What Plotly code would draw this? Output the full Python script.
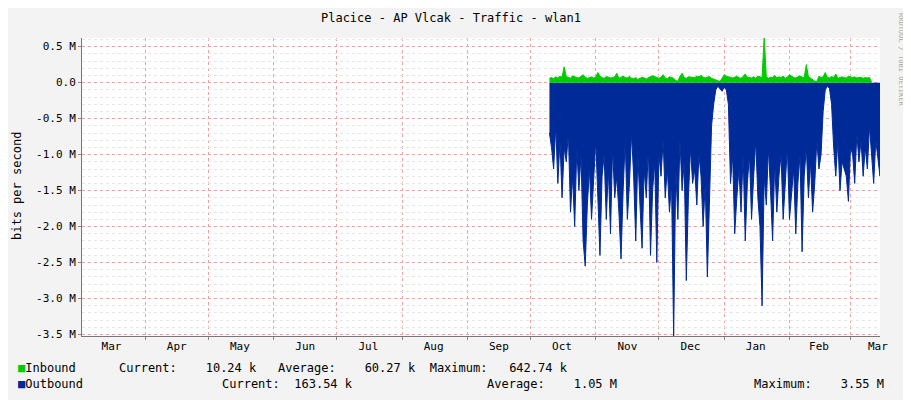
import plotly.graph_objects as go
import pandas as pd

start_date = "2015-10-10"
outbound_M = [0.7,0.9,1.2,0.6,1.4,0.8,1.6,0.9,1.1,0.7,
1.8,1.3,2.0,0.9,1.5,1.0,2.2,2.55,1.7,1.2,
1.9,1.4,0.8,1.6,2.4,1.3,1.0,1.9,1.2,2.1,
0.9,1.6,1.3,1.8,2.45,1.5,0.8,1.9,1.4,0.7,
1.3,2.2,1.0,1.7,2.3,1.2,1.6,0.9,2.4,1.5,
1.1,2.5,1.0,1.3,0.8,1.6,1.2,1.8,1.4,3.55,
1.2,1.9,0.8,1.5,1.1,2.75,1.6,0.9,1.4,1.2,
1.7,1.0,1.3,2.0,1.4,2.7,1.5,0.6,0.3,0.1,
0.05,0.08,0.12,0.06,0.1,
0.3,1.4,1.0,2.1,1.6,
1.2,1.8,1.0,2.2,1.4,1.0,1.9,1.3,0.8,1.6,
2.0,3.1,1.3,1.7,0.9,1.5,2.2,1.1,1.8,1.3,
1.0,1.9,1.4,0.9,1.9,1.5,1.2,2.1,1.4,1.0,
2.35,1.3,0.9,1.6,1.1,1.8,1.4,0.8,1.2,1.0,
0.4,0.1,0.05,0.08,0.3,
0.9,1.3,0.8,1.5,1.1,1.2,1.3,1.65,0.9,1.0,1.4,0.7,1.1,0.8,1.3,
0.9,1.2,0.6,1.0,1.4,0.8,1.1,1.3,0.16]
inbound_k = [60,70,55,80,65,90,75,220,85,70,
60,95,80,70,65,85,110,75,60,70,
80,65,75,140,90,70,60,85,75,65,
70,80,130,60,75,90,70,65,85,60,
55,70,45,60,75,65,50,70,80,95,
85,70,60,75,110,65,55,80,70,60,
30,20,90,130,70,60,80,75,65,70,
90,80,100,75,65,70,85,60,50,40,
20,15,60,110,90,
80,70,65,75,90,70,60,85,120,75,
70,65,80,60,90,75,70,642,80,60,
75,70,100,65,80,70,90,60,75,110,
85,70,65,80,95,75,70,250,80,65,
40,20,15,90,70,
80,140,75,65,85,70,120,60,75,80,70,65,90,75,70,
80,65,70,75,60,70,65,70,10]
month_labels = ["Mar","Apr","May","Jun","Jul","Aug","Sep","Oct","Nov","Dec","Jan","Feb","Mar"]
month_mid = ["2015-03-16","2015-04-16","2015-05-16","2015-06-16","2015-07-16","2015-08-16",
             "2015-09-16","2015-10-16","2015-11-16","2015-12-16","2016-01-16","2016-02-15","2016-03-14"]
month_starts = ["2015-04-01","2015-05-01","2015-06-01","2015-07-01","2015-08-01","2015-09-01",
                "2015-10-01","2015-11-01","2015-12-01","2016-01-01","2016-02-01","2016-03-01"]
y_ticks = [0.5e6,0,-0.5e6,-1e6,-1.5e6,-2e6,-2.5e6,-3e6,-3.5e6]
y_labels = ["0.5 M","0.0","-0.5 M","-1.0 M","-1.5 M","-2.0 M","-2.5 M","-3.0 M","-3.5 M"]

dates = pd.date_range(start_date, periods=len(outbound_M), freq="D")
mono = "DejaVu Sans Mono"
fig = go.Figure()
fig.add_trace(go.Scatter(x=dates, y=[-v*1e6 for v in outbound_M], fill="tozeroy",
    mode="lines", line=dict(color="#002A97", width=1), fillcolor="#002A97"))
fig.add_trace(go.Scatter(x=dates, y=[v*1e3 for v in inbound_k], fill="tozeroy",
    mode="lines", line=dict(color="#00CC00", width=1), fillcolor="#00CC00"))

# page has an 8px body margin; figure coordinates = screen - 8
L, T, R, B = 74, 30, 872, 328
fig.update_layout(
    width=911, height=400, showlegend=False,
    paper_bgcolor="#F3F3F3", plot_bgcolor="white",
    margin=dict(l=L, r=911-R, t=T, b=400-B, autoexpand=False),
    font=dict(family=mono, size=11, color="#000"),
    title=dict(text="Placice - AP Vlcak - Traffic - wlan1", x=(451-8)/911, y=1-(6/400),
               xanchor="center", yanchor="top", font=dict(family=mono, size=12)),
    xaxis=dict(range=["2015-03-02","2016-03-15"], tickvals=month_mid, ticktext=month_labels,
               showgrid=False, ticks="", showline=True, linecolor="#777", automargin=False,
               minor=dict(tickvals=month_starts, showgrid=True, gridcolor="#F4A0A0",
                          griddash="dot", gridwidth=1, ticks="outside", ticklen=3, tickcolor="#888")),
    yaxis=dict(range=[-3.52e6, 0.62e6], tickvals=y_ticks, ticktext=y_labels, automargin=False,
               showgrid=True, gridcolor="#F4A0A0", griddash="dot", zeroline=False,
               ticks="outside", ticklen=3, tickcolor="#888", showline=True, linecolor="#777",
               minor=dict(dtick=1e5, showgrid=True, gridcolor="#E6E6E6", griddash="dot")),
)

def px(x, y):
    x -= 8; y -= 8
    return (x-L)/(R-L), (B-y)/(B-T)

xp, yp = px(17, 186)
fig.add_annotation(x=xp, y=yp, xref="paper", yref="paper", text="bits per second",
                   showarrow=False, textangle=-90, xanchor="center", yanchor="middle",
                   font=dict(family=mono, size=12))

rows = [
    (16, 368, '<span style="color:#00CC00">■</span>Inbound'),
    (117, 368, 'Current:    10.24 k   Average:    60.27 k  Maximum:   642.74 k'),
    (16, 384, '<span style="color:#002A97">■</span>Outbound'),
    (220, 384, 'Current:  163.54 k'),
    (485, 384, 'Average:    1.05 M'),
    (752, 384, 'Maximum:    3.55 M'),
]
for x, y, t in rows:
    xp, yp = px(x, y)
    fig.add_annotation(x=xp, y=yp, xref="paper", yref="paper", text=t, showarrow=False,
                       xanchor="left", yanchor="middle", font=dict(family=mono, size=12))
xp, yp = px(901, 60)
fig.add_annotation(x=xp, y=yp, xref="paper", yref="paper", text="RRDTOOL / TOBI OETIKER",
                   showarrow=False, textangle=90, xanchor="center", yanchor="middle",
                   font=dict(family=mono, size=7, color="#AAAAAA"))
fig.write_html("out.html")
